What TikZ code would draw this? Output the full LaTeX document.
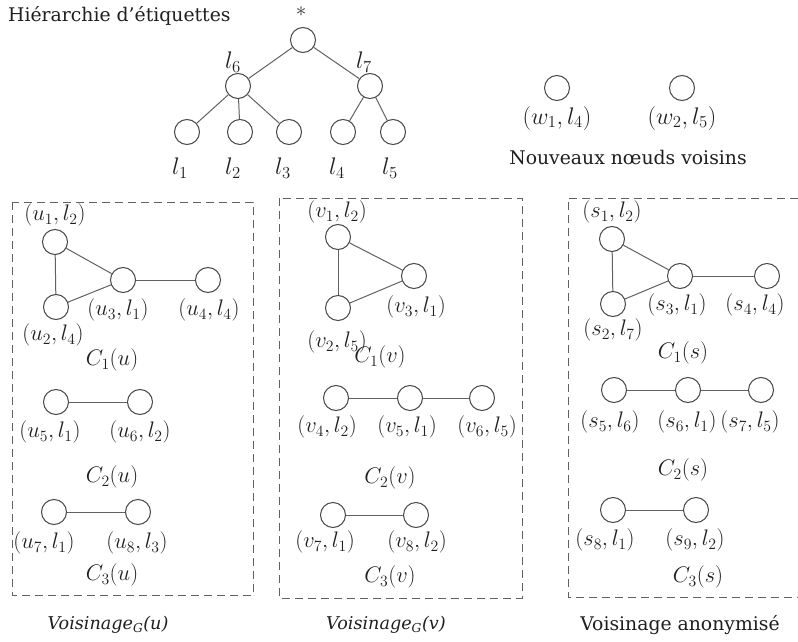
\RequirePackage{fix-cm}
\documentclass[tikz,border=0pt]{standalone}
\usepackage{fontspec}
\setmainfont{DejaVu Serif}
\begin{document}
\begin{tikzpicture}[x=1pt,y=-1pt,
  vtx/.style={circle,draw=black!72,line width=1pt,minimum size=25pt,inner sep=0pt},
  edge/.style={draw=black!62,line width=1pt},
  lab/.style={inner sep=0pt,text=black!88,font=\fontsize{22.5}{27}\selectfont},
  biglab/.style={inner sep=0pt,text=black!88,font=\fontsize{24}{28}\selectfont},
  txt/.style={inner sep=0pt,text=black!88,font=\fontsize{18.8}{22}\selectfont},
  itxt/.style={inner sep=0pt,text=black!88,font=\fontsize{17.6}{21}\selectfont\itshape},
  frame/.style={draw=black!62,line width=1pt,dash pattern=on 8pt off 5pt}]
\useasboundingbox (0,0) rectangle (798,642);

% label hierarchy
\node[txt,anchor=west] (title) at (8,16) {Hiérarchie d’étiquettes};
\node[vtx] (root) at (303,40) {};
\node[vtx] (h6) at (238,86) {};
\node[vtx] (h7) at (370,86) {};
\node[vtx] (h1) at (187,132) {};
\node[vtx] (h2) at (240,132) {};
\node[vtx] (h3) at (289,132) {};
\node[vtx] (h4) at (343,132) {};
\node[vtx] (h5) at (393,132) {};
\draw[edge] (root) -- (h6);
\draw[edge] (root) -- (h7);
\draw[edge] (h6) -- (h1);
\draw[edge] (h6) -- (h2);
\draw[edge] (h6) -- (h3);
\draw[edge] (h7) -- (h4);
\draw[edge] (h7) -- (h5);
\node[inner sep=0pt,text=black!80,font=\fontsize{21}{24}\selectfont] (rootl) at (301,12) {$*$};
\node[biglab] (h6l) at (233,62) {$l_6$};
\node[biglab] (h7l) at (364,62) {$l_7$};
\node[biglab] (h1l) at (180,168) {$l_1$};
\node[biglab] (h2l) at (233,168) {$l_2$};
\node[biglab] (h3l) at (283,168) {$l_3$};
\node[biglab] (h4l) at (337,168) {$l_4$};
\node[biglab] (h5l) at (390,168) {$l_5$};

% new neighbour nodes
\node[vtx] (w1) at (557,88) {};
\node[vtx] (w2) at (682,88) {};
\node[biglab] (w1l) at (557,118) {$(w_1,l_4)$};
\node[biglab] (w2l) at (682,118) {$(w_2,l_5)$};
\node[txt] (newtxt) at (628,157) {Nouveaux nœuds voisins};

% neighbourhood of u
\draw[frame] (12,202) rectangle (253,595);
\node[vtx] (u1) at (55,242) {};
\node[vtx] (u3) at (123,280) {};
\node[vtx] (u4) at (208,280) {};
\node[vtx] (u2) at (56,307) {};
\draw[edge] (u1) -- (u2);
\draw[edge] (u1) -- (u3);
\draw[edge] (u2) -- (u3);
\draw[edge] (u3) -- (u4);
\node[lab] (u1l) at (55,215) {$(u_1,l_2)$};
\node[lab] (u3l) at (118,310) {$(u_3,l_1)$};
\node[lab] (u4l) at (209,310) {$(u_4,l_4)$};
\node[lab] (u2l) at (53,335) {$(u_2,l_4)$};
\node[lab] (c1u) at (112,360) {$C_1(u)$};
\node[vtx] (u5) at (56,402) {};
\node[vtx] (u6) at (140,402) {};
\draw[edge] (u5) -- (u6);
\node[lab] (u5l) at (50,432) {$(u_5,l_1)$};
\node[lab] (u6l) at (140,432) {$(u_6,l_2)$};
\node[lab] (c2u) at (112,477) {$C_2(u)$};
\node[vtx] (u7) at (54,512) {};
\node[vtx] (u8) at (138,512) {};
\draw[edge] (u7) -- (u8);
\node[lab] (u7l) at (44,543) {$(u_7,l_1)$};
\node[lab] (u8l) at (137,543) {$(u_8,l_3)$};
\node[lab] (c3u) at (112,575) {$C_3(u)$};
\node[itxt] (vu) at (108,625) {Voisinage\textsubscript{G}(u)};

% neighbourhood of v
\draw[frame] (279,198) rectangle (522,598);
\node[vtx] (v1) at (338,237) {};
\node[vtx] (v3) at (414,276) {};
\node[vtx] (v2) at (338,308) {};
\draw[edge] (v1) -- (v2);
\draw[edge] (v1) -- (v3);
\draw[edge] (v2) -- (v3);
\node[lab] (v1l) at (337,212) {$(v_1,l_2)$};
\node[lab] (v3l) at (416,307) {$(v_3,l_1)$};
\node[lab] (v2l) at (337,342) {$(v_2,l_5)$};
\node[lab] (c1v) at (380,357) {$C_1(v)$};
\node[vtx] (v4) at (336,398) {};
\node[vtx] (v5) at (410,398) {};
\node[vtx] (v6) at (482,398) {};
\draw[edge] (v4) -- (v5);
\draw[edge] (v5) -- (v6);
\node[lab] (v4l) at (327,427) {$(v_4,l_2)$};
\node[lab] (v5l) at (407,427) {$(v_5,l_1)$};
\node[lab] (v6l) at (487,427) {$(v_6,l_5)$};
\node[lab] (c2v) at (390,478) {$C_2(v)$};
\node[vtx] (v7) at (333,515) {};
\node[vtx] (v8) at (416,515) {};
\draw[edge] (v7) -- (v8);
\node[lab] (v7l) at (325,542) {$(v_7,l_1)$};
\node[lab] (v8l) at (417,542) {$(v_8,l_2)$};
\node[lab] (c3v) at (390,577) {$C_3(v)$};
\node[itxt] (vv) at (386,625) {Voisinage\textsubscript{G}(v)};

% anonymised neighbourhood
\draw[frame] (798,198) -- (568,198) -- (568,597) -- (798,597);
\node[vtx] (s1) at (612,239) {};
\node[vtx] (s3) at (680,276) {};
\node[vtx] (s4) at (767,276) {};
\node[vtx] (s2) at (613,304) {};
\draw[edge] (s1) -- (s2);
\draw[edge] (s1) -- (s3);
\draw[edge] (s2) -- (s3);
\draw[edge] (s3) -- (s4);
\node[lab] (s1l) at (612,212) {$(s_1,l_2)$};
\node[lab] (s3l) at (677,305) {$(s_3,l_1)$};
\node[lab] (s4l) at (755,305) {$(s_4,l_4)$};
\node[lab] (s2l) at (613,330) {$(s_2,l_7)$};
\node[lab] (c1s) at (683,353) {$C_1(s)$};
\node[vtx] (s5) at (614,390) {};
\node[vtx] (s6) at (688,390) {};
\node[vtx] (s7) at (761,390) {};
\draw[edge] (s5) -- (s6);
\draw[edge] (s6) -- (s7);
\node[lab] (s5l) at (610,422) {$(s_5,l_6)$};
\node[lab] (s6l) at (687,422) {$(s_6,l_1)$};
\node[lab] (s7l) at (750,422) {$(s_7,l_5)$};
\node[lab] (c2s) at (683,470) {$C_2(s)$};
\node[vtx] (s8) at (613,510) {};
\node[vtx] (s9) at (696,510) {};
\draw[edge] (s8) -- (s9);
\node[lab] (s8l) at (605,540) {$(s_8,l_1)$};
\node[lab] (s9l) at (695,540) {$(s_9,l_2)$};
\node[lab] (c3s) at (698,577) {$C_3(s)$};
\node[txt] (vs) at (680,625) {Voisinage anonymisé};
\end{tikzpicture}
\end{document}
